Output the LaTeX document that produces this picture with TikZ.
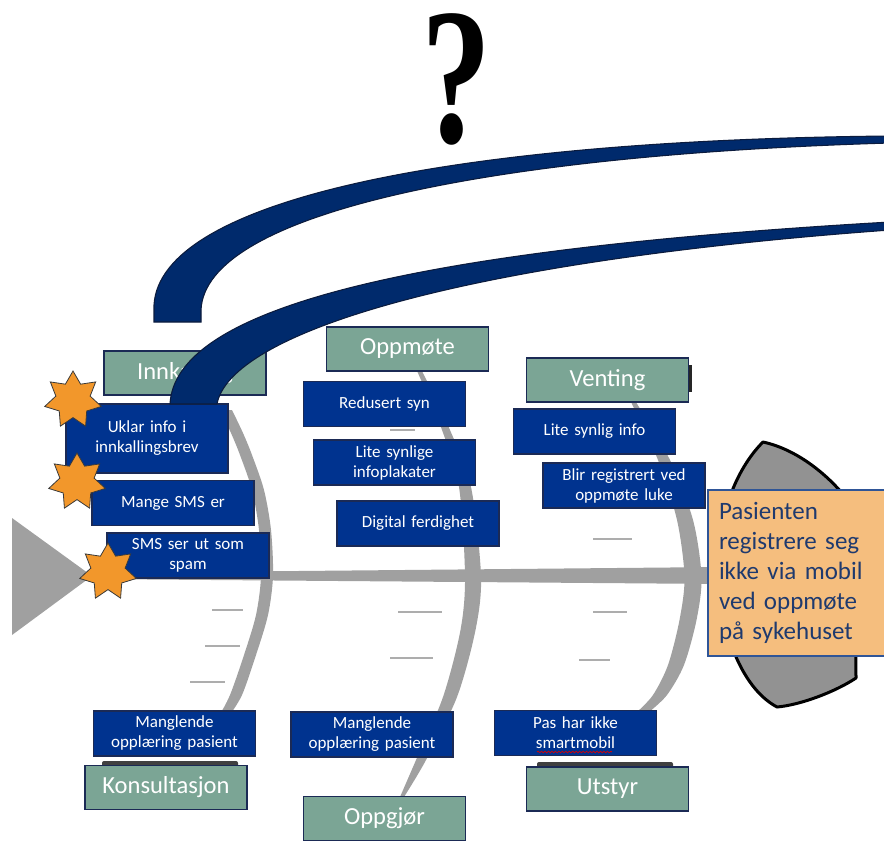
\documentclass[tikz,border=0pt]{standalone}
\usepackage{fontspec}
\setmainfont{Carlito}
\newfontfamily\qfont{Liberation Serif}
\usetikzlibrary{shapes.geometric,decorations.pathmorphing}

\begin{document}
\begin{tikzpicture}[x=0.75pt,y=-0.75pt,
  cause/.style={fill=causeblue,draw=edgeblue,line width=0.8pt,text=white,minimum width=121.5pt,minimum height=33.75pt,inner sep=0pt,text width=118pt,align=center,font=\fontsize{12.75}{15}\selectfont},
  group/.style={fill=groupteal,draw=edgeblue,line width=0.9pt,text=white,minimum width=121.5pt,minimum height=33pt,inner sep=0pt,font=\fontsize{18.4}{22}\selectfont},
  mystar/.style={star,star points=7,star point ratio=1.65,minimum size=43.5pt,inner sep=0pt,fill=starorange,draw=stardark,line width=0.6pt},
  tick/.style={draw=tickgray,line width=1.5pt}]
\definecolor{causeblue}{HTML}{00338F}
\definecolor{edgeblue}{HTML}{1B2A55}
\definecolor{groupteal}{HTML}{7BA595}
\definecolor{bonegray}{HTML}{A0A0A0}
\definecolor{tickgray}{HTML}{ADADAD}
\definecolor{headgray}{HTML}{929292}
\definecolor{starorange}{HTML}{F2972B}
\definecolor{stardark}{HTML}{3A3A3A}
\definecolor{effectfill}{HTML}{F5BE7E}
\definecolor{effectedge}{HTML}{2F5597}
\definecolor{effecttext}{HTML}{1F3A6E}
\definecolor{bandblue}{HTML}{002A6C}
\definecolor{bandedge}{HTML}{0B1B3D}
\useasboundingbox (0,0) rectangle (884,843);

% skeleton
\fill[bonegray] (12,518) -- (92,576) -- (12,635) -- cycle;
\fill[bonegray] (85,573) -- (722,567) -- (722,584) -- (85,579) -- cycle;
\fill[bonegray] plot[smooth] coordinates {(220,410) (231,433) (240,455) (252,490) (259,530) (261,576) (256,615) (244,655) (230,695) (219,716)}
  -- plot[smooth] coordinates {(229,716) (242,695) (256,655) (268,615) (273,576) (271,530) (264,490) (252,455) (243,433) (232,410)} -- cycle;
\fill[bonegray] plot[smooth] coordinates {(417.5,372) (442,430) (459,487) (465,576) (460.5,630) (443,697) (416,760) (400,797)}
  -- plot[smooth] coordinates {(404,797) (426,760) (457,697) (475.5,630) (481,576) (471,487) (450,430) (422.5,372)} -- cycle;
\fill[bonegray] plot[smooth] coordinates {(631.5,403) (658,460) (677,520) (684.5,577) (679.5,620) (668,665) (653,695) (637,712)}
  -- plot[smooth] coordinates {(649,712) (667,695) (684,665) (696.5,620) (701.5,577) (693,520) (670,460) (636.5,403)} -- cycle;
\foreach \xa/\xb/\yy in {212/243/610,205/240/646,190/225/682,390/415/430,398/442/612,390/433/658,593/632/539,593/627/612,579/610/660}
  {\draw[tick] (\xa,\yy) -- (\xb,\yy);}

% head
\filldraw[fill=headgray,draw=black,line width=2.25pt,line join=round]
  (763,442) .. controls (800,450) and (835,480) .. (855,510) -- (856,678)
  .. controls (835,692) and (800,705) .. (777,707)
  .. controls (745,690) and (722,640) .. (718,576)
  .. controls (716,520) and (735,470) .. (763,442) -- cycle;

% categories
\fill[black!75,rounded corners=1.5pt] (102,761) rectangle (238,767);
\fill[black!75,rounded corners=1.5pt] (537,762) rectangle (673,768);
\fill[black!85] (686,365) rectangle (692,392);
\foreach \nm/\cx/\cy/\txt in {innk/185/373/Innkalling,oppm/407.5/349/Oppmøte,vent/607.5/380/Venting,kons/166/787.5/Konsultasjon,oppg/384.5/818.5/Oppgjør,utst/607.5/789/Utstyr}
  {\node[group] (\nm) at (\cx,\cy) {\txt};}

% causes
\node[cause,minimum height=51.75pt] (uklar) at (147,438.5) {Uklar info i\\innkallingsbrev};
\node[cause] (mange) at (173,503) {Mange SMS er};
\node[cause] (spam) at (188,555.5) {SMS ser ut som\\spam};
\node[cause] (syn) at (384.5,404) {Redusert syn};
\node[cause] (plakat) at (394.5,462.5) {Lite synlige\\infoplakater};
\node[cause] (digital) at (418,523.5) {Digital ferdighet};
\node[cause] (info) at (594.5,431.5) {Lite synlig info};
\node[cause] (luke) at (624,485.5) {Blir registrert ved\\oppmøte luke};
\node[cause] (opplA) at (174.5,733.5) {Manglende\\opplæring pasient};
\node[cause] (opplB) at (372,734.5) {Manglende\\opplæring pasient};
\node[cause] (mobil) at (575.5,733) {Pas har ikke\\smartmobil};
\draw[red!85!black,line width=0.5pt,decorate,decoration={snake,amplitude=0.6pt,segment length=2.6pt}] (537,752) -- (612,752);

% effect
\node[fill=effectfill,draw=effectedge,line width=1pt,text=effecttext,minimum width=133.5pt,minimum height=124.5pt,inner sep=0pt,text width=117pt,align=left,font=\fontsize{18.75}{22.5}\selectfont] (effect) at (797,573)
  {Pasienten\\registrere seg\\ikke via mobil\\ved oppmøte\\på sykehuset};

% arrows from the question
\filldraw[fill=bandblue,draw=bandedge,line width=0.8pt]
  (154,322) -- (154,305) .. controls (160,200) and (450,140) .. (890,136)
  -- (890,143) .. controls (480,155) and (205,215) .. (201,310) -- (201,322) -- cycle;
\filldraw[fill=bandblue,draw=bandedge,line width=0.8pt]
  (170,404) .. controls (175,310) and (400,250) .. (890,222)
  -- (890,230) .. controls (450,262) and (230,335) .. (217,404) -- cycle;

\foreach \sx/\sy [count=\k] in {73/400,77/482,108/572}
  {\node[mystar] (star\k) at (\sx,\sy) {};}

\node[inner sep=0pt,font=\qfont\bfseries\fontsize{146}{146}\selectfont] (question) at (457,79) {\scalebox{0.72}[1]{?}};
\end{tikzpicture}
\end{document}
